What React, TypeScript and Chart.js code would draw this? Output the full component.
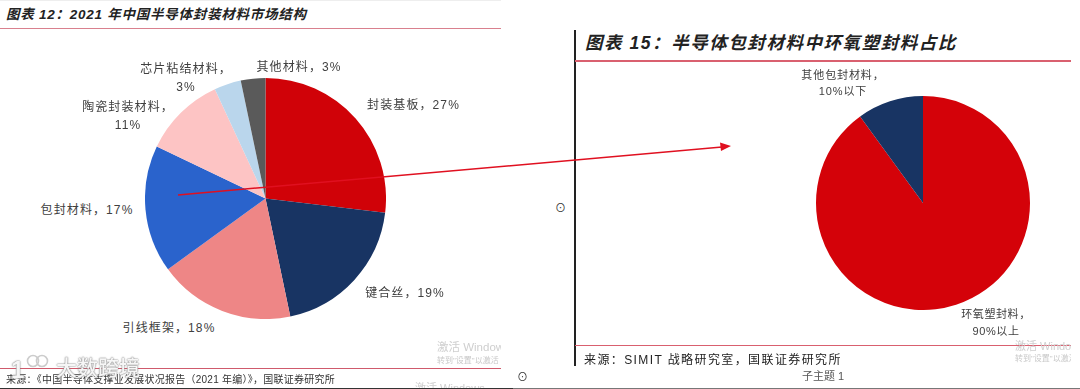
import React, { useEffect, useRef } from "react";
import { Chart, registerables } from "chart.js";

Chart.register(...registerables);

const marketCategories = ["封装基板", "键合丝", "引线框架", "包封材料", "陶瓷封装材料", "芯片粘结材料", "其他材料"];
const marketValues = [26.9, 19.8, 18.3, 17.1, 11, 3.6, 3.3];
const marketColors = ["#d00208", "#183463", "#ee8686", "#2a63cc", "#fdc4c4", "#bad6ec", "#5a5a5a"];
const encapCategories = ["环氧塑封料", "其他包封材料"];
const encapValues = [90, 10];
const encapColors = ["#d40209", "#183463"];

const CN = '"Liberation Sans","Noto Sans CJK SC",sans-serif';

type LabelProps = { x: number; y: number; lines: string[]; size?: number; color?: string; lh?: number; ls?: number };
function Label({ x, y, lines, size = 12, color = "#404040", lh = 16, ls = 1.1 }: LabelProps) {
  return (
    <div style={{ position: "absolute", left: x, top: y, transform: "translateX(-50%)", textAlign: "center", whiteSpace: "nowrap", fontFamily: CN, fontSize: size, lineHeight: lh + "px", color, letterSpacing: ls }}>
      {lines.map((l, i) => <div key={i}>{l}</div>)}
    </div>
  );
}

function Pie({ labels, values, colors, left, top, size }: { labels: string[]; values: number[]; colors: string[]; left: number; top: number; size: number }) {
  const ref = useRef<HTMLCanvasElement>(null);
  useEffect(() => {
    const chart = new Chart(ref.current!, {
      type: "pie",
      data: { labels, datasets: [{ data: values, backgroundColor: colors, borderWidth: 0 }] },
      options: {
        animation: false,
        responsive: false,
        layout: { padding: 0 },
        plugins: { legend: { display: false }, tooltip: { enabled: false } },
      },
    });
    return () => chart.destroy();
  }, []);
  return <canvas ref={ref} width={size} height={size} style={{ position: "absolute", left, top, width: size, height: size }} />;
}

function Line({ x, y, w, h, c }: { x: number; y: number; w: number; h: number; c: string }) {
  return <div style={{ position: "absolute", left: x, top: y, width: w, height: h, background: c }} />;
}

function Clip({ x, y, w, h, children }: { x: number; y: number; w: number; h: number; children: React.ReactNode }) {
  return <div style={{ position: "absolute", left: x, top: y, width: w, height: h, overflow: "hidden", whiteSpace: "nowrap", fontFamily: CN }}>{children}</div>;
}

export default function App() {
  useEffect(() => {
    document.body.style.margin = "0";
    document.body.style.background = "#fff";
  }, []);
  const title: React.CSSProperties = { position: "absolute", fontFamily: CN, fontStyle: "italic", fontWeight: 700, color: "#222", whiteSpace: "nowrap" };
  const mark = "0 0 1.5px #777, 0 0 1.5px #999";
  return (
    <div style={{ position: "relative", width: 1080, height: 389, overflow: "hidden", background: "#fff", filter: "blur(0.35px)" }}>
      <Line x={0} y={0} w={501} h={1} c="#eeeeee" />
      <div style={{ ...title, left: 6, top: 5, fontSize: 13.5, lineHeight: "20px", letterSpacing: 0.75 }}>图表 12：2021 年中国半导体封装材料市场结构</div>
      <Line x={0} y={27.5} w={501} h={1.5} c="#d9808e" />
      <Pie labels={marketCategories} values={marketValues} colors={marketColors} left={144.5} top={78} size={241} />
      <Label x={413.5} y={97} lines={["封装基板，27%"]} />
      <Label x={405} y={285} lines={["键合丝，19%"]} />
      <Label x={169} y={320} lines={["引线框架，18%"]} />
      <Label x={87} y={202} lines={["包封材料，17%"]} />
      <Label x={128} y={98} lines={["陶瓷封装材料，", "11%"]} lh={18} />
      <Label x={186} y={60} lines={["芯片粘结材料，", "3%"]} lh={18} />
      <Label x={299} y={59} lines={["其他材料，3%"]} />
      <Clip x={437} y={340} w={64} h={30}>
        <div style={{ fontSize: 11.5, color: "#cfcfcf", lineHeight: "15px" }}>激活 Windows</div>
        <div style={{ fontSize: 8, color: "#c8c8c8", lineHeight: "12px" }}>转到"设置"以激活</div>
      </Clip>
      <Line x={0} y={368} w={501} h={1} c="#cf5a6c" />
      <div style={{ position: "absolute", left: 6, top: 373, fontFamily: CN, fontSize: 10, lineHeight: "14px", color: "#333", whiteSpace: "nowrap", letterSpacing: 0.25 }}>来源：《中国半导体支撑业发展状况报告（2021 年编）》，国联证券研究所</div>
      <div style={{ position: "absolute", left: 56, top: 355, fontFamily: CN, fontWeight: 500, fontSize: 21, lineHeight: "26px", color: "#f6f6f6", whiteSpace: "nowrap", textShadow: mark }}>大数跨境</div>
      <div style={{ position: "absolute", left: 11, top: 356, fontFamily: CN, fontWeight: 700, fontSize: 24, lineHeight: "28px", color: "#f6f6f6", textShadow: mark }}>1</div>
      <svg width={40} height={20} style={{ position: "absolute", left: 22, top: 351 }}>
        <circle cx={11} cy={10} r={5.5} fill="none" stroke="#cccccc" strokeWidth={1.6} />
        <circle cx={20} cy={10} r={5.5} fill="none" stroke="#cccccc" strokeWidth={1.6} />
      </svg>
      <Clip x={415} y={381} w={70} h={7}>
        <div style={{ fontSize: 11, color: "#cfcfcf", lineHeight: "14px" }}>激活 Windows</div>
      </Clip>
      <Line x={0} y={387.5} w={513} h={1.5} c="#333" />
      <div style={{ position: "absolute", left: 517, top: 370, fontFamily: CN, fontSize: 11, lineHeight: "14px", color: "#333" }}>⊙</div>

      <Line x={574} y={30} w={1.5} h={336} c="#222" />
      <div style={{ ...title, left: 585, top: 31, fontSize: 17.5, lineHeight: "24px", letterSpacing: 1.55 }}>图表 15：半导体包封材料中环氧塑封料占比</div>
      <Line x={575} y={60} w={496} h={1.5} c="#d9606f" />
      <div style={{ position: "absolute", left: 555, top: 201, fontFamily: CN, fontSize: 11, lineHeight: "14px", color: "#333" }}>⊙</div>
      <Pie labels={encapCategories} values={encapValues} colors={encapColors} left={816} top={95.5} size={214} />
      <Label x={843} y={67} lines={["其他包封材料，", "10%以下"]} size={11} lh={16} ls={0.9} />
      <Label x={996} y={306} lines={["环氧塑封料，", "90%以上"]} size={11} lh={17} ls={0.6} />
      <Line x={575} y={344.5} w={496} h={1.5} c="#d9606f" />
      <div style={{ position: "absolute", left: 584, top: 352, fontFamily: CN, fontSize: 12, lineHeight: "16px", color: "#222", whiteSpace: "nowrap", letterSpacing: 1.4 }}>来源：SIMIT 战略研究室，国联证券研究所</div>
      <Clip x={1015} y={339} w={56} h={24}>
        <div style={{ fontSize: 11, color: "#cfcfcf", lineHeight: "14px" }}>激活 Windows</div>
        <div style={{ fontSize: 8, color: "#c8c8c8", lineHeight: "11px" }}>转到"设置"以激活</div>
      </Clip>
      <div style={{ position: "absolute", left: 802, top: 369, fontFamily: CN, fontSize: 11, lineHeight: "14px", color: "#555" }}>子主题 1</div>
      <Line x={513} y={387.5} w={567} h={1.5} c="#777" />

      <svg width={1080} height={389} style={{ position: "absolute", left: 0, top: 0 }}>
        <line x1={178} y1={195} x2={722} y2={147} stroke="#e01020" strokeWidth={1.5} />
        <polygon points="731,146 720,142.5 721,151" fill="#e01020" />
      </svg>
    </div>
  );
}
